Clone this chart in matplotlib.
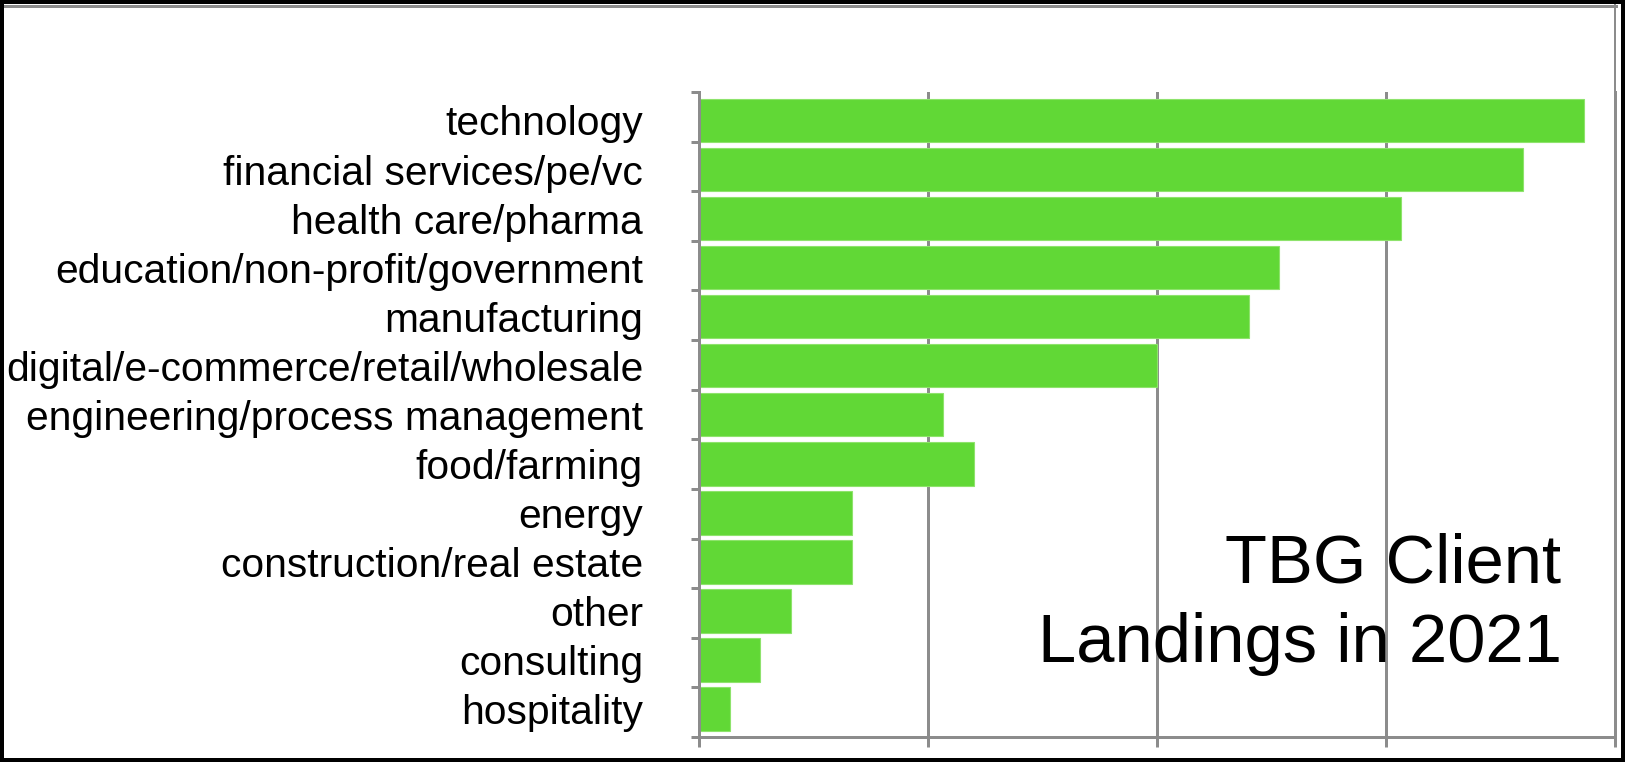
import matplotlib
matplotlib.use("Agg")
import matplotlib.pyplot as plt
from matplotlib.lines import Line2D

# client landings per industry, top to bottom
industries = [
    "technology",
    "financial services/pe/vc",
    "health care/pharma",
    "education/non-profit/government",
    "manufacturing",
    "digital/e-commerce/retail/wholesale",
    "engineering/process management",
    "food/farming",
    "energy",
    "construction/real estate",
    "other",
    "consulting",
    "hospitality",
]
landings = [29, 27, 23, 19, 18, 15, 8, 9, 5, 5, 3, 2, 1]
grid_ticks = [0, 7.5, 15, 22.5, 30]
title_lines = ["TBG Client", "Landings in 2021"]

GREEN = "#61d836"
GRAY = "#8c8c8c"
W, H = 1625, 762
px = 72 / 100  # points per pixel at dpi 100

plt.rcParams["font.family"] = ["Liberation Sans", "DejaVu Sans"]

fig = plt.figure(figsize=(W / 100, H / 100), dpi=100)
ax = fig.add_axes([699 / W, 1 - 737 / H, (1615 - 699) / W, (737 - 92) / H])

n = len(industries)
pos = list(range(n))
ax.barh(pos, landings, height=0.887, color=GREEN, edgecolor="#8ee36c",
        linewidth=0.8, zorder=2)

ax.set_xlim(0, 30)
# the bars sit on a slightly tighter pitch than the category ticks
y_top, y_bottom = -0.581, 12.572
ax.set_ylim(y_bottom, y_top)

ax.set_xticks(grid_ticks)
ax.set_xticklabels([])
ax.tick_params(axis="x", direction="out", length=10 * px, width=3 * px,
               color=GRAY)
ax.grid(axis="x", color=GRAY, linewidth=3 * px, zorder=0)
ax.set_axisbelow(True)

ax.set_yticks(pos)
ax.set_yticklabels(industries, fontsize=29.3)
ax.tick_params(axis="y", which="major", length=0, pad=56 * px)
step = (y_bottom - y_top) / n
ax.set_yticks([y_top + k * step for k in range(n + 1)], minor=True)
ax.tick_params(axis="y", which="minor", direction="out", length=8 * px,
               width=3 * px, color=GRAY)

for side in ["left", "bottom", "right"]:
    ax.spines[side].set_color(GRAY)
    ax.spines[side].set_linewidth(3 * px)
ax.spines["top"].set_visible(False)

# chart title inside the plot area, right aligned
ax.text(28.25, 9.42, title_lines[0], fontsize=49.5, ha="right", va="baseline")
ax.text(28.25, 11.05, title_lines[1], fontsize=49.5, ha="right", va="baseline")

# screenshot frame: gray inner line and black outer border
fig.add_artist(Line2D([3 / W, 1616 / W], [1 - 5.5 / H, 1 - 5.5 / H],
                      color=GRAY, linewidth=3 * px))
fig.add_artist(Line2D([1615 / W, 1615 / W], [1 - 5 / H, 1 - 92 / H],
                      color=GRAY, linewidth=2 * px))
fig.add_artist(Line2D([0, 1, 1, 0, 0], [0, 0, 1, 1, 0], color="black",
                      linewidth=8 * px))

fig.savefig("out.png", dpi=100)
